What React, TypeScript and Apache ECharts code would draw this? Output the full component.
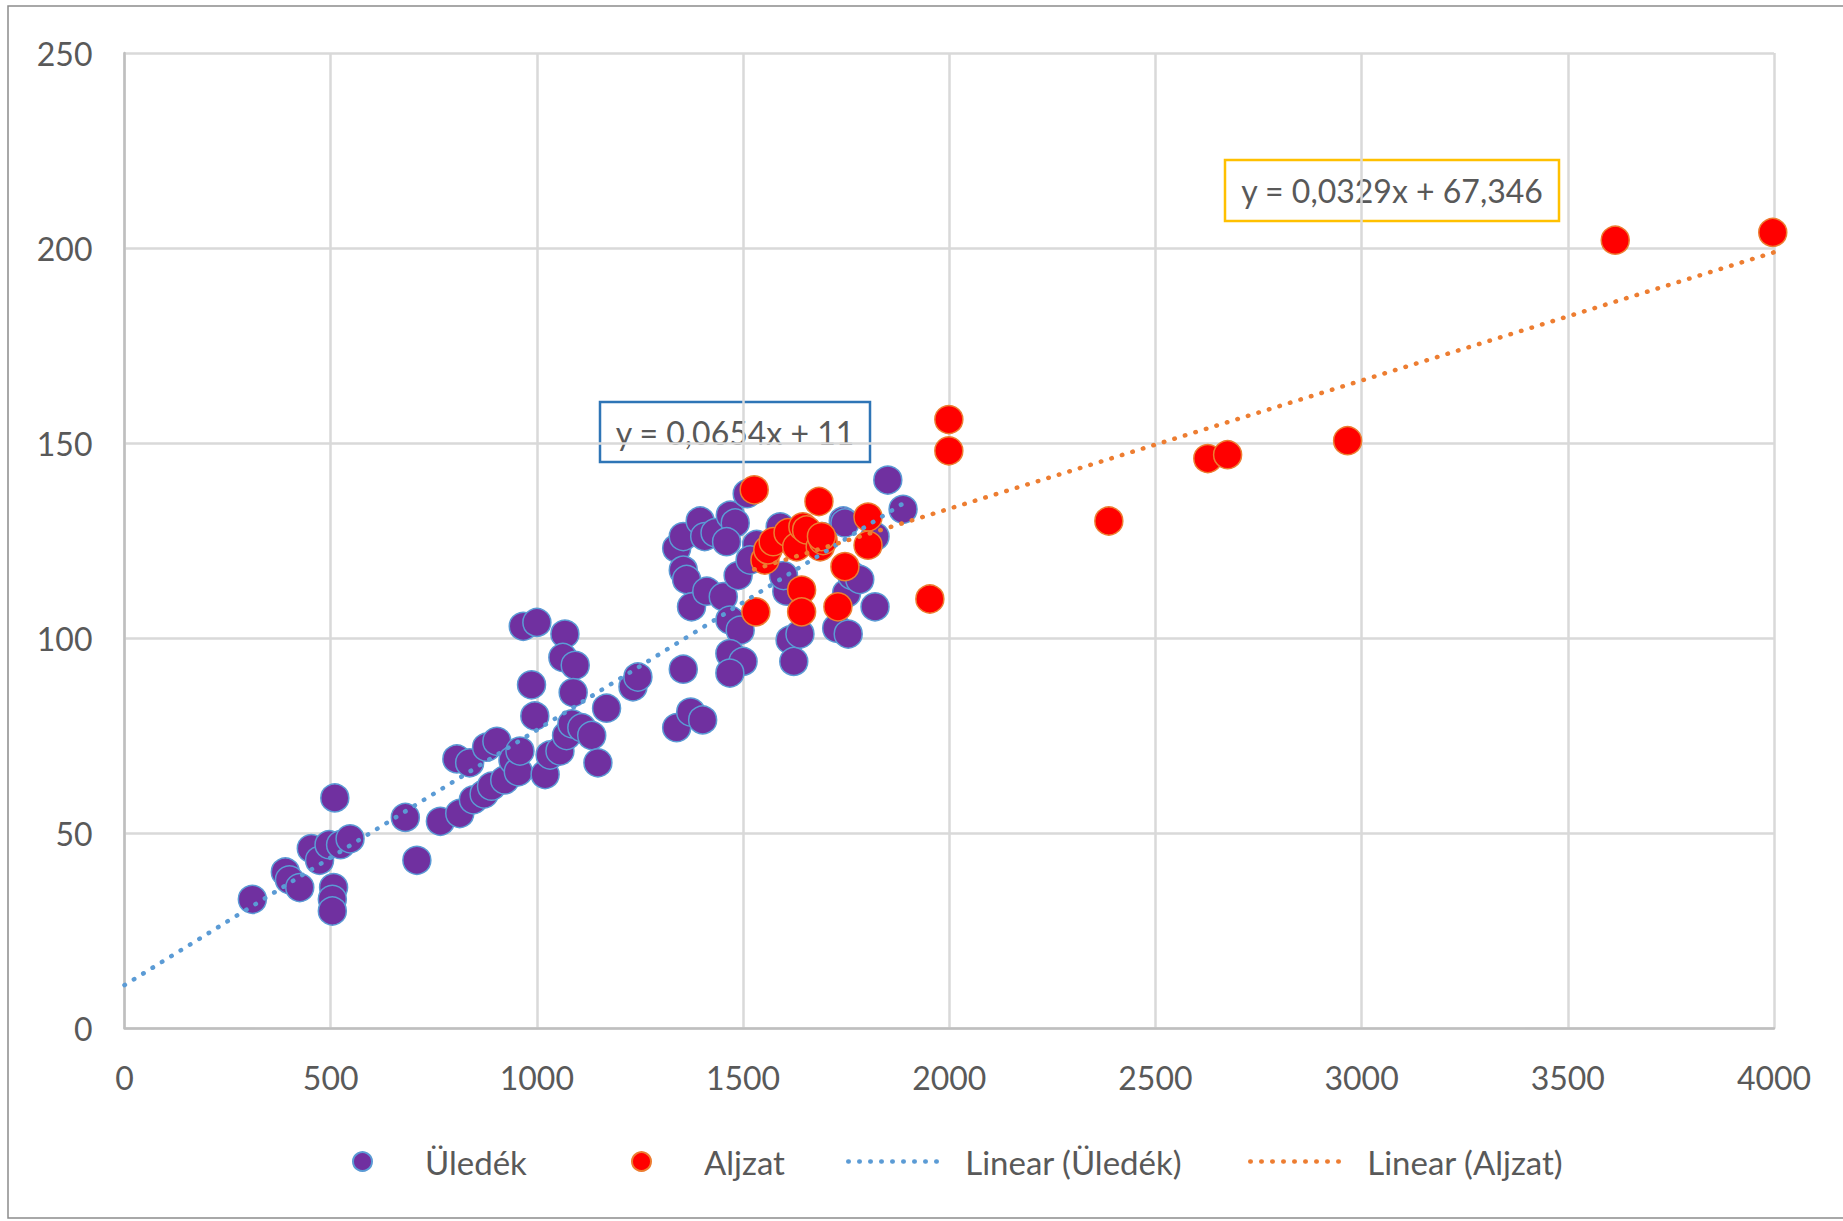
import React, { useEffect, useRef } from "react";
import * as echarts from "echarts";

const xTicks = { min: 0, max: 4000, interval: 500 };
const yTicks = { min: 0, max: 250, interval: 50 };

const uledek: number[][] = [
  [310, 33], [390, 40], [400, 38], [425, 36], [453, 46], [473, 43], [496, 47], [524, 47], [547, 48.5],
  [510, 59], [507, 36], [504, 33], [504, 30], [681, 54], [709, 43], [766, 53], [813, 55], [806, 69],
  [837, 68], [846, 58.5], [872, 60], [878, 72], [890, 62], [903, 73.5], [922, 63.6], [942, 68.7],
  [955, 65.7], [959, 71], [967, 103], [1000, 104], [987, 88], [995, 80], [1020, 65], [1032, 70],
  [1056, 71], [1072, 75], [1068, 101], [1063, 95], [1093, 93], [1088, 86], [1085, 78], [1109, 77],
  [1133, 75], [1148, 68], [1169, 82], [1233, 87.5], [1245, 90],
  [1339, 77], [1373, 81], [1402, 79], [1355, 92], [1339, 123], [1355, 126], [1396, 130], [1407, 126],
  [1432, 127], [1469, 131.5], [1481, 129.5], [1460, 124.7], [1355, 117.4], [1363, 115], [1375, 108],
  [1412, 112], [1452, 110.6], [1488, 116], [1510, 137], [1533, 124], [1517, 120], [1468, 104.6],
  [1493, 102], [1468, 96], [1500, 94], [1468, 91], [1590, 128.5], [1606, 112], [1598, 116],
  [1614, 99.5], [1623, 94], [1638, 101], [1692, 126], [1743, 130], [1727, 102.5], [1755, 101],
  [1751, 111.5], [1764, 116], [1783, 115], [1820, 126], [1820, 108], [1851, 140.5], [1888, 133],
  [1747, 129.5],
];

const aljzat: number[][] = [
  [1527, 138], [1531, 106.7], [1553, 120], [1560, 122.6], [1573, 124.7], [1609, 127], [1630, 123.4],
  [1645, 128.5], [1654, 127.7], [1642, 112.3], [1642, 106.7], [1684, 135], [1687, 123.4], [1694, 125],
  [1690, 126], [1747, 118.3], [1730, 108], [1803, 131], [1803, 123.8], [1953, 110], [1999, 156],
  [1999, 148], [2387, 130], [2627, 146], [2675, 147], [2966, 150.6], [3615, 202], [3997, 204],
];

const trendUledek: number[][] = [[0, 11], [1888, 134.5]];
const trendAljzat: number[][] = [[1527, 117.6], [4000, 198.9]];

const names = ["Üledék", "Aljzat", "Linear (Üledék)", "Linear (Aljzat)"];
const eqUledek = "y = 0,0654x + 11";
const eqAljzat = "y = 0,0329x + 67,346";

const FONT = "Lato, 'Open Sans', sans-serif";
const TXT = "#595959";

export default function App() {
  const ref = useRef<HTMLDivElement>(null);
  useEffect(() => {
    if (!ref.current) return;
    const chart = echarts.init(ref.current, undefined, { renderer: "svg" });
    const dotted = { type: [0.5, 10.5] as any, cap: "round" as const, width: 4.5 };
    const legendText = { color: TXT, fontSize: 33, fontFamily: FONT };
    const LTOP = 1145;
    const lineLegend = (left: number, name: string, color: string) => ({
      data: [name],
      left,
      top: LTOP,
      padding: 0,
      itemWidth: 96,
      itemHeight: 6,
      itemStyle: { opacity: 0 },
      lineStyle: { color, width: 4.5, type: [0.5, 10.5], cap: "round", opacity: 1 },
      textStyle: { ...legendText, padding: [0, 0, 0, 16] },
    });
    chart.setOption({
      animation: false,
      backgroundColor: "#ffffff",
      textStyle: { fontFamily: FONT },
      grid: { left: 124.5, right: 69, top: 53, bottom: 193, containLabel: false },
      xAxis: {
        type: "value",
        ...xTicks,
        axisLine: { show: true, lineStyle: { color: "#BFBFBF", width: 2.5 } },
        axisTick: { show: false },
        axisLabel: { color: TXT, fontSize: 32, fontFamily: FONT, margin: 33, formatter: (v: number) => String(v) },
        splitLine: { show: true, lineStyle: { color: "#D9D9D9", width: 2.5 } },
      },
      yAxis: {
        type: "value",
        ...yTicks,
        axisLine: { show: true, lineStyle: { color: "#BFBFBF", width: 2.5 } },
        axisTick: { show: false },
        axisLabel: { color: TXT, fontSize: 32, fontFamily: FONT, margin: 32 },
        splitLine: { show: true, lineStyle: { color: "#D9D9D9", width: 2.5 } },
      },
      legend: [
        { data: [names[0]], left: 352, top: LTOP, padding: 0, itemWidth: 19, itemHeight: 21, icon: "circle", textStyle: { ...legendText, padding: [0, 0, 0, 48] } },
        { data: [names[1]], left: 631, top: LTOP, padding: 0, itemWidth: 19, itemHeight: 21, icon: "circle", textStyle: { ...legendText, padding: [0, 0, 0, 48] } },
        lineLegend(846, names[2], "#5B9BD5"),
        lineLegend(1248, names[3], "#ED7D31"),
      ],
      series: [
        {
          name: names[0],
          type: "scatter",
          data: uledek,
          symbolSize: 28,
          itemStyle: { color: "#7030A0", borderColor: "#5B9BD5", borderWidth: 1.5, opacity: 1 },
          z: 2,
        },
        {
          name: names[1],
          type: "scatter",
          data: aljzat,
          symbolSize: 28,
          itemStyle: { color: "#FF0000", borderColor: "#ED7D31", borderWidth: 1.5, opacity: 1 },
          z: 3,
        },
        {
          name: names[2],
          type: "line",
          data: trendUledek,
          symbol: "none",
          showSymbol: false,
          lineStyle: { ...dotted, color: "#5B9BD5" },
          itemStyle: { color: "#5B9BD5" },
          z: 4,
        },
        {
          name: names[3],
          type: "line",
          data: trendAljzat,
          symbol: "none",
          showSymbol: false,
          lineStyle: { ...dotted, color: "#ED7D31" },
          itemStyle: { color: "#ED7D31" },
          z: 4,
        },
      ],
      graphic: [
        {
          type: "rect",
          shape: { x: 8, y: 6, width: 1900, height: 1212 },
          style: { fill: "none", stroke: "#8C8C8C", lineWidth: 1.5 },
          silent: true,
          z: 100,
        },
        {
          type: "group",
          z: 50,
          children: [
            {
              type: "rect",
              shape: { x: 600, y: 402, width: 270, height: 60 },
              style: { fill: "none", stroke: "#2E75B6", lineWidth: 2.5 },
            },
            {
              type: "text",
              x: 735,
              y: 432,
              style: { text: eqUledek, fill: TXT, fontSize: 32, fontFamily: FONT, align: "center", verticalAlign: "middle" },
            },
          ],
        },
        {
          type: "group",
          z: 50,
          children: [
            {
              type: "rect",
              shape: { x: 1225, y: 160, width: 334, height: 61 },
              style: { fill: "none", stroke: "#FFC000", lineWidth: 2.5 },
            },
            {
              type: "text",
              x: 1392,
              y: 190.5,
              style: { text: eqAljzat, fill: TXT, fontSize: 32, fontFamily: FONT, align: "center", verticalAlign: "middle" },
            },
          ],
        },
      ],
    });
    return () => chart.dispose();
  }, []);
  return (
    <div
      ref={ref}
      style={{ position: "fixed", left: 0, top: 0, width: 1843, height: 1221, background: "#ffffff" }}
    />
  );
}
